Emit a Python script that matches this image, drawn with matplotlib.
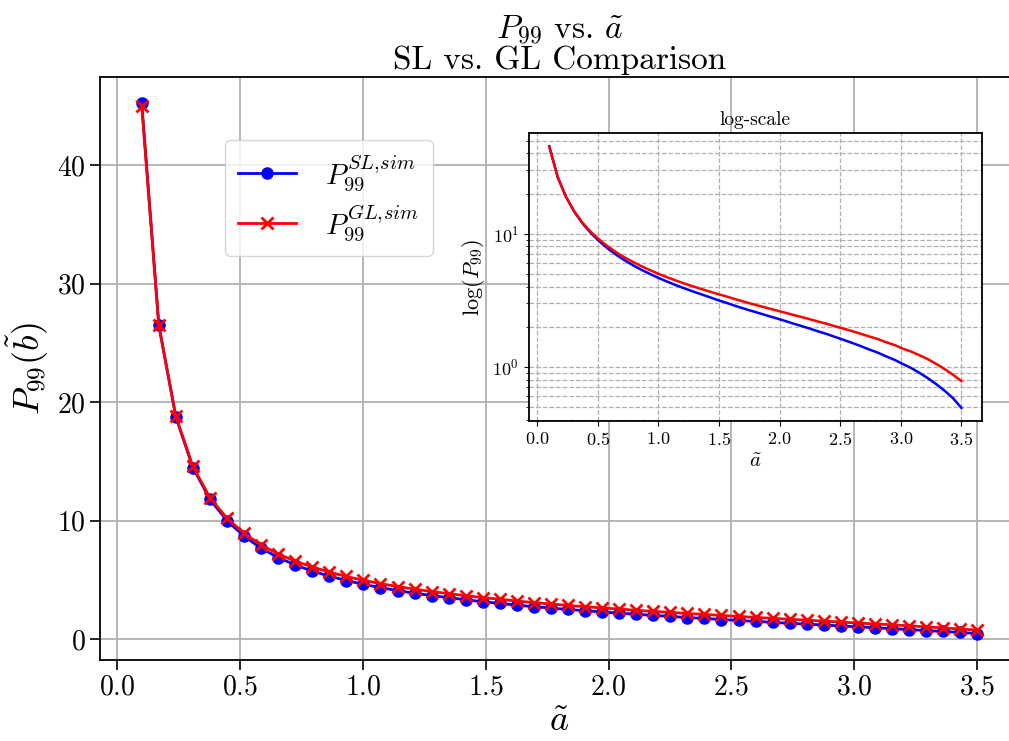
import numpy as np
import matplotlib
matplotlib.use("Agg")
import matplotlib.pyplot as plt

plt.rcParams["mathtext.fontset"] = "cm"
plt.rcParams["font.family"] = "serif"
plt.rcParams["font.serif"] = ["cmr10"]
plt.rcParams["axes.formatter.use_mathtext"] = True
plt.rcParams["axes.unicode_minus"] = False

# 50 equally spaced a~ values from 0.1 to 3.5
a_tilde = np.linspace(0.1, 3.5, 50)

p99_sl = [45.2, 26.5, 18.75, 14.48, 11.80, 10.00, 8.70, 7.68, 6.90, 6.27,
          5.76, 5.33, 4.96, 4.64, 4.36, 4.11, 3.89, 3.69, 3.51, 3.34,
          3.17, 3.03, 2.88, 2.75, 2.63, 2.52, 2.41, 2.31, 2.21, 2.11,
          2.02, 1.93, 1.84, 1.76, 1.67, 1.59, 1.51, 1.43, 1.35, 1.28,
          1.20, 1.13, 1.05, 0.98, 0.90, 0.82, 0.74, 0.66, 0.58, 0.49]

p99_gl = [45.0, 26.5, 18.8, 14.58, 11.95, 10.20, 8.95, 7.96, 7.20, 6.59,
          6.10, 5.67, 5.30, 4.98, 4.70, 4.45, 4.23, 4.03, 3.85, 3.68,
          3.52, 3.38, 3.23, 3.10, 2.97, 2.86, 2.75, 2.65, 2.55, 2.45,
          2.36, 2.27, 2.18, 2.10, 2.01, 1.93, 1.85, 1.77, 1.69, 1.62,
          1.53, 1.46, 1.37, 1.30, 1.22, 1.14, 1.05, 0.96, 0.87, 0.78]

fig = plt.figure(figsize=(10.09, 7.41), dpi=100)
ax = fig.add_axes([0.0991, 0.1093, 0.9108, 0.7868])

ax.plot(a_tilde, p99_sl, color="blue", marker="o", markersize=8, lw=2,
        label=r"$P_{99}^{SL,\!sim}$")
ax.plot(a_tilde, p99_gl, color="red", marker="x", markersize=9, mew=2, lw=2,
        label=r"$P_{99}^{GL,\!sim}$")
ax.grid(True, color="#b0b0b0", lw=1.3)
ax.tick_params(labelsize=20, length=7, width=1.2)
for s in ax.spines.values():
    s.set_linewidth(1.3)
ax.set_xlabel(r"$\tilde{a}$", fontsize=26)
ax.set_ylabel(r"$P_{99}(\tilde{b})$", fontsize=26)
ax.set_title(r"$P_{99}$ vs. $\tilde{a}$" + "\nSL vs. GL Comparison",
             fontsize=24, linespacing=0.95)
ax.legend(loc="upper left", bbox_to_anchor=(0.12, 0.917), fontsize=21,
          handlelength=2.0, borderpad=0.45, labelspacing=0.35,
          handletextpad=1.0)

# inset on log scale
ins = fig.add_axes([0.524, 0.4318, 0.4493, 0.3883])
ins.plot(a_tilde, p99_sl, color="blue", lw=1.8)
ins.plot(a_tilde, p99_gl, color="red", lw=1.8)
ins.set_yscale("log")
ins.grid(True, which="both", ls="--", color="#b0b0b0", lw=0.9)
ins.tick_params(labelsize=13)
ins.set_title("log-scale", fontsize=14)
ins.set_xlabel(r"$\tilde{a}$", fontsize=15)
ins.set_ylabel(r"$\log(P_{99})$", fontsize=16)
for s in ins.spines.values():
    s.set_linewidth(1.3)

fig.savefig("out.png", dpi=100)
